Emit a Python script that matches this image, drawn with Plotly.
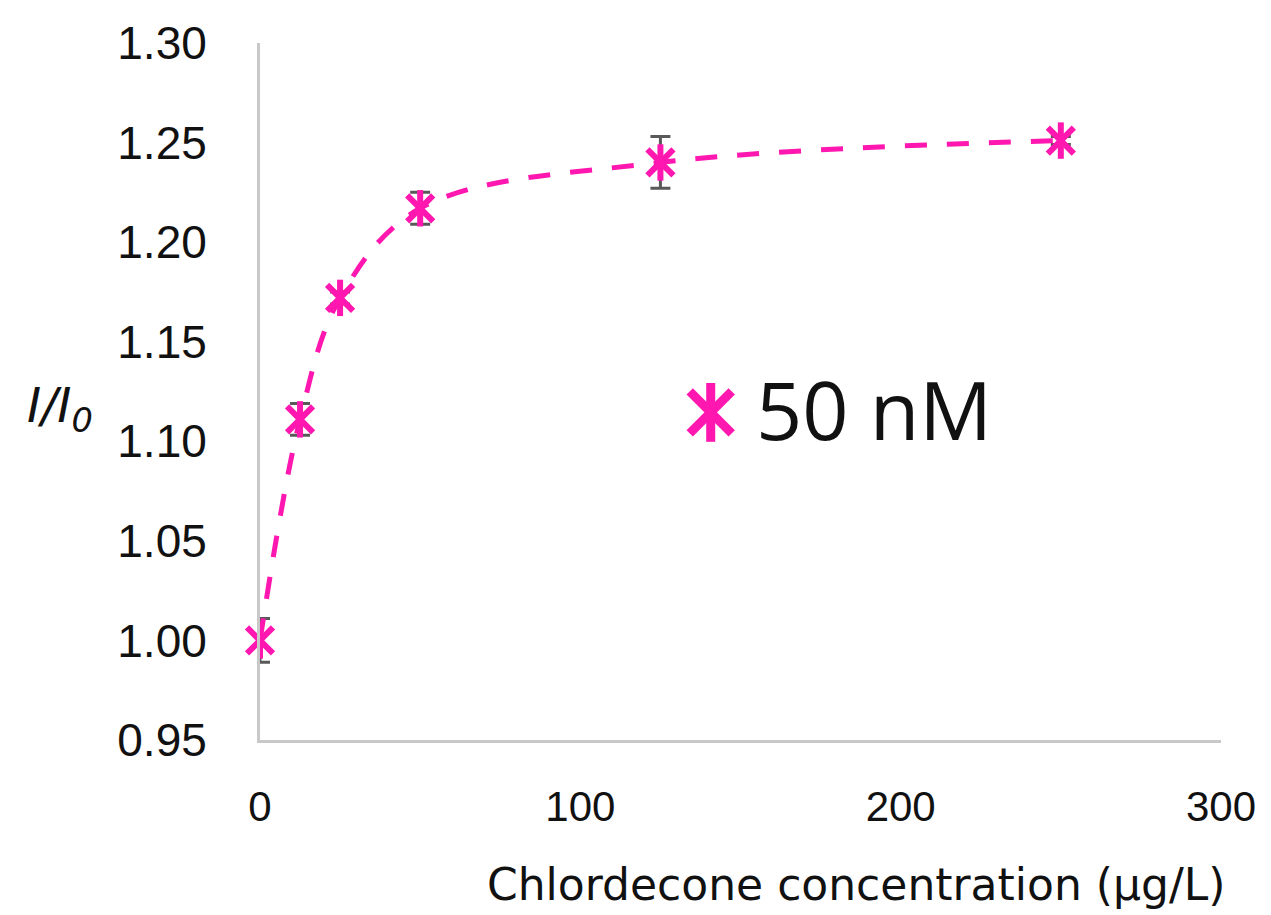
import plotly.graph_objects as go

# Data
conc = [0, 12.5, 25, 50, 125, 250]
ratio = [1.000, 1.111, 1.172, 1.217, 1.240, 1.251]
err = [0.011, 0.008, 0.003, 0.008, 0.013, 0.002]

x_ticks = [0, 100, 200, 300]
y_ticks = [0.95, 1.00, 1.05, 1.10, 1.15, 1.20, 1.25, 1.30]
series_name = "50 nM"

PINK = "#FF17B0"
GRAY_ERR = "#595959"
AXIS = "#C8C8C8"
TXT = "#111111"

fig = go.Figure()

# dashed smoothed line + error bars + x-part of star marker
fig.add_trace(go.Scatter(
    x=conc, y=ratio, mode="lines+markers", name=series_name,
    line=dict(color=PINK, width=5, dash="22px,20px", shape="spline", smoothing=1),
    marker=dict(symbol="x-thin-open", size=26, line=dict(color=PINK, width=6), color=PINK),
    error_y=dict(type="data", array=err, visible=True, color=GRAY_ERR, thickness=3, width=10),
    showlegend=False, cliponaxis=False,
))
# vertical arm of the star marker
fig.add_trace(go.Scatter(
    x=conc, y=ratio, mode="markers",
    marker=dict(symbol="line-ns-open", size=26, line=dict(color=PINK, width=6), color=PINK),
    showlegend=False, hoverinfo="skip", cliponaxis=False,
))

# legend key drawn on an overlay paper-like axis
key_x = [0.469]
key_y = [0.470]
for sym in ["x-thin-open", "line-ns-open"]:
    fig.add_trace(go.Scatter(
        x=key_x, y=key_y, mode="markers", xaxis="x2", yaxis="y2",
        marker=dict(symbol=sym, size=42, line=dict(color=PINK, width=9), color=PINK),
        showlegend=False, hoverinfo="skip", cliponaxis=False,
    ))

fig.update_layout(
    width=1271, height=915,
    margin=dict(l=260, r=50, t=43, b=175),
    paper_bgcolor="white", plot_bgcolor="white",
    showlegend=False,
    xaxis=dict(
        range=[0, 300], tickvals=x_ticks, showgrid=False, zeroline=False,
        showline=True, linecolor=AXIS, linewidth=3, ticks="",
        tickfont=dict(family="Liberation Sans", size=42, color=TXT),
        ticklabelstandoff=28,
    ),
    yaxis=dict(
        range=[0.95, 1.30], tickvals=y_ticks, tickformat=".2f", showgrid=False,
        zeroline=False, showline=True, linecolor=AXIS, linewidth=3, ticks="",
        tickfont=dict(family="Liberation Sans", size=46, color=TXT),
        ticklabelstandoff=41,
    ),
    xaxis2=dict(range=[0, 1], overlaying="x", visible=False, domain=[0, 1]),
    yaxis2=dict(range=[0, 1], overlaying="y", visible=False, domain=[0, 1]),
    annotations=[
        dict(text="Chlordecone concentration (µg/L)", xref="paper", yref="paper",
             x=1.006, y=-0.208, xanchor="right", yanchor="middle", showarrow=False,
             font=dict(family="DejaVu Sans", size=44, color=TXT)),
        dict(text="<i>I/I<sub>0</sub></i>", xref="paper", yref="paper",
             x=-0.208, y=0.475, xanchor="center", yanchor="middle", showarrow=False,
             font=dict(family="DejaVu Sans", size=48, color=TXT)),
        dict(text=series_name, xref="paper", yref="paper",
             x=0.514, y=0.476, xanchor="left", yanchor="middle", showarrow=False,
             font=dict(family="Open Sans", size=81, color=TXT)),
    ],
)

fig.write_html("out.html", config={"displayModeBar": False},
               post_script="document.body.style.margin='0';")
